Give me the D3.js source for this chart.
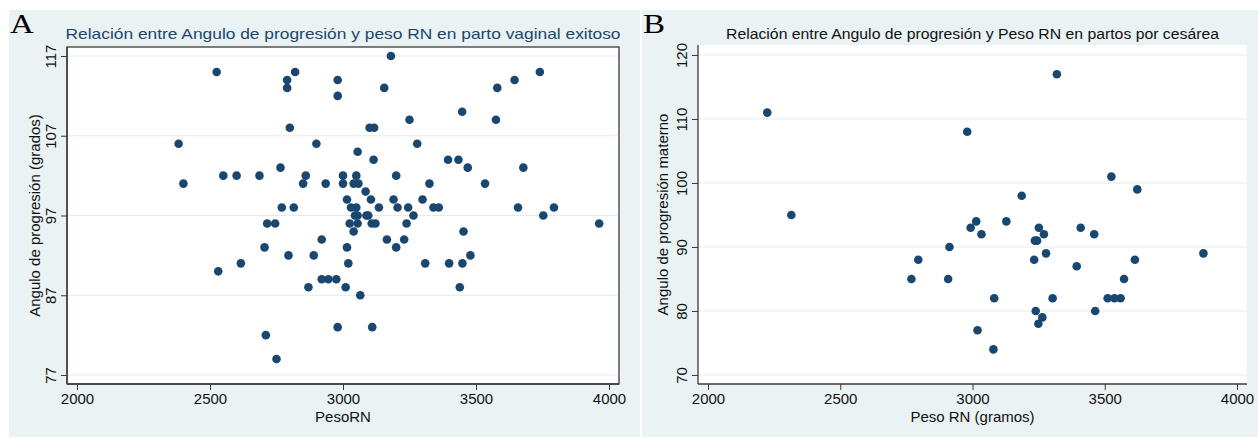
<!DOCTYPE html>
<html>
<head>
<meta charset="utf-8">
<script src="https://cdn.jsdelivr.net/npm/d3@7/dist/d3.min.js"></script>
<style>
  body { margin: 0; background: #fff; }
  text { font-family: "Liberation Sans", Arial, sans-serif; }
</style>
</head>
<body>
<div id="chart"></div>
<script>
// panel A: parto vaginal exitoso (peso RN in gramos, angulo in grados)
const pesoA = [
  3180,
  2525, 2820, 3740,
  2790, 2980, 3645,
  2790, 3155, 3580,
  2980,
  3448,
  3250, 3575,
  2800, 3100, 3117,
  2382, 2900, 3279,
  3055,
  3115, 3395, 3434,
  2765, 3469, 3678,
  2550, 2600, 2686, 2860, 3000, 3050, 3200,
  2400, 2850, 2935, 3000, 3040, 3058, 3325, 3534,
  3085,
  3015, 3105, 3190, 3299,
  2770, 2815, 3030, 3050, 3135, 3205, 3245, 3340, 3360, 3658, 3793,
  3045, 3055, 3088, 3095, 3265, 3753,
  2715, 2745, 3025, 3055, 3108, 3122, 3239, 3963,
  3040, 3453,
  2920, 3165, 3230,
  2705, 3015, 3200,
  2795, 2890, 3479,
  2616, 3020, 3309, 3399, 3449,
  2531,
  2920, 2945, 2975,
  2870, 3010, 3439,
  3065,
  2980, 3110,
  2710,
  2750
];
const anguloA = [
  117,
  115, 115, 115,
  114, 114, 114,
  113, 113, 113,
  112,
  110,
  109, 109,
  108, 108, 108,
  106, 106, 106,
  105,
  104, 104, 104,
  103, 103, 103,
  102, 102, 102, 102, 102, 102, 102,
  101, 101, 101, 101, 101, 101, 101, 101,
  100,
  99, 99, 99, 99,
  98, 98, 98, 98, 98, 98, 98, 98, 98, 98, 98,
  97, 97, 97, 97, 97, 97,
  96, 96, 96, 96, 96, 96, 96, 96,
  95, 95,
  94, 94, 94,
  93, 93, 93,
  92, 92, 92,
  91, 91, 91, 91, 91,
  90,
  89, 89, 89,
  88, 88, 88,
  87,
  83, 83,
  82,
  79
];

// panel B: partos por cesárea
const pesoB = [
  2224, 3319, 2980, 3525, 3623, 3186, 2315,
  3014, 3128,
  2993, 3251, 3409,
  3034, 3270, 3460,
  3236, 3244,
  2913,
  3278, 3873,
  2795, 3233, 3614,
  3394,
  2769, 2908, 3573,
  3082, 3303, 3511, 3537, 3560,
  3239, 3464,
  3264,
  3249,
  3019,
  3079
];
const anguloB = [
  111, 117, 108, 101, 99, 98, 95,
  94, 94,
  93, 93, 93,
  92, 92, 92,
  91, 91,
  90,
  89, 89,
  88, 88, 88,
  87,
  85, 85, 85,
  82, 82, 82, 82, 82,
  80, 80,
  79,
  78,
  77,
  74
];

// tick values
const xTicks = [2000, 2500, 3000, 3500, 4000];
const yTicksA = [77, 87, 97, 107, 117];
const yTicksB = [70, 80, 90, 100, 110, 120];

const width = 1258, height = 438;
const bgColor = "#eaf2f3";
const gridColor = "#e1ebee";
const axisColor = "#3a3a3a";
const markColor = "#1a476f";

var svg = d3.select("#chart")
  .append("svg")
  .attr("width", width)
  .attr("height", height);

function drawPanel(p) {
  // outer background of the graph
  svg.append("rect")
    .attr("x", p.bg[0]).attr("y", p.bg[1])
    .attr("width", p.bg[2]).attr("height", p.bg[3])
    .attr("fill", bgColor);

  // panel letter (a bit wider than plain Times, like the original)
  svg.append("text")
    .attr("transform", "translate(" + p.letterX + ",33) scale(1.18,1)")
    .style("font-family", "'Liberation Serif', 'Times New Roman', serif")
    .style("font-size", "28px")
    .attr("fill", "#000")
    .text(p.letter);

  // plot region
  svg.append("rect")
    .attr("x", p.left).attr("y", p.top)
    .attr("width", p.right - p.left).attr("height", p.bottom - p.top)
    .attr("fill", "#fff");

  var x = d3.scaleLinear().domain([2000, 4000]).range([p.left + 10, p.right - 10]);
  var y = d3.scaleLinear().domain(p.yDomain).range([375, p.yTopPx]);

  // horizontal grid lines
  svg.append("g")
    .selectAll("line")
    .data(p.yTicks)
    .enter()
    .append("line")
    .attr("x1", p.left).attr("x2", p.right)
    .attr("y1", d => y(d)).attr("y2", d => y(d))
    .attr("stroke", gridColor)
    .attr("stroke-width", 1.2);

  // axes
  var xAxis = svg.append("g")
    .attr("transform", "translate(0," + p.bottom + ")")
    .call(d3.axisBottom(x).tickValues(xTicks).tickSize(6).tickPadding(3).tickFormat(d3.format("d")));
  xAxis.select(".domain").attr("d", "M" + p.left + ",0H" + p.right).attr("stroke", axisColor).attr("stroke-width", 1.3);
  xAxis.selectAll(".tick line").attr("stroke", axisColor);
  xAxis.selectAll(".tick text")
    .style("font-size", "15px")
    .style("font-family", "'Liberation Sans', Arial, sans-serif")
    .attr("fill", "#111")
    .attr("dy", "0.72em");

  var yAxis = svg.append("g")
    .attr("transform", "translate(" + p.left + ",0)")
    .call(d3.axisLeft(y).tickValues(p.yTicks).tickSize(6).tickFormat(d3.format("d")));
  yAxis.select(".domain").attr("d", "M0," + p.top + "V" + p.bottom).attr("stroke", axisColor).attr("stroke-width", 1.3);
  yAxis.selectAll(".tick line").attr("stroke", axisColor);
  yAxis.selectAll(".tick text")
    .attr("x", null).attr("dy", null)
    .attr("transform", "translate(-11,0) rotate(-90)")
    .attr("text-anchor", "middle")
    .style("font-size", "15px")
    .style("font-family", "'Liberation Sans', Arial, sans-serif")
    .attr("fill", "#111");

  // frame around plot region (only on panel A)
  if (p.frame) {
    svg.append("rect")
      .attr("x", p.left).attr("y", p.top)
      .attr("width", p.right - p.left).attr("height", p.bottom - p.top)
      .attr("fill", "none")
      .attr("stroke", axisColor)
      .attr("stroke-width", 1.3);
  }

  // points
  svg.append("g")
    .selectAll("circle")
    .data(p.peso.map((d, i) => [d, p.angulo[i]]))
    .enter()
    .append("circle")
    .attr("cx", d => x(d[0]))
    .attr("cy", d => y(d[1]))
    .attr("r", 4.3)
    .attr("fill", markColor);

  // titles
  var cx = (p.left + p.right) / 2;
  svg.append("text")
    .attr("x", cx).attr("y", 39)
    .attr("text-anchor", "middle")
    .attr("textLength", p.titleWidth)
    .attr("lengthAdjust", "spacingAndGlyphs")
    .style("font-size", p.titleSize)
    .attr("fill", p.titleColor)
    .text(p.title);

  svg.append("text")
    .attr("x", cx).attr("y", 422)
    .attr("text-anchor", "middle")
    .style("font-size", "15px")
    .attr("fill", "#111")
    .text(p.xLabel);

  svg.append("text")
    .attr("transform", "translate(" + p.yLabelX + "," + ((p.top + p.bottom) / 2) + ") rotate(-90)")
    .attr("text-anchor", "middle")
    .style("font-size", "15px")
    .attr("fill", "#111")
    .text(p.yLabel);
}

drawPanel({
  bg: [9, 10, 631, 427],
  letter: "A", letterX: 10,
  left: 67, right: 619, top: 47, bottom: 384,
  yDomain: [77, 117], yTopPx: 56, yTicks: yTicksA,
  frame: true,
  peso: pesoA, angulo: anguloA,
  title: "Relación entre Angulo de progresión y peso RN en parto vaginal exitoso",
  titleSize: "15px", titleWidth: 555, titleColor: "#1a476f",
  xLabel: "PesoRN",
  yLabel: "Angulo de progresión (grados)", yLabelX: 40
});

drawPanel({
  bg: [642, 10, 616, 427],
  letter: "B", letterX: 643,
  left: 698, right: 1247, top: 45, bottom: 384,
  yDomain: [70, 120], yTopPx: 55, yTicks: yTicksB,
  frame: false,
  peso: pesoB, angulo: anguloB,
  title: "Relación entre Angulo de progresión y Peso RN en partos por cesárea",
  titleSize: "14px", titleWidth: 493, titleColor: "#111",
  xLabel: "Peso RN (gramos)",
  yLabel: "Angulo de progresión materno", yLabelX: 668
});
</script>
</body>
</html>
